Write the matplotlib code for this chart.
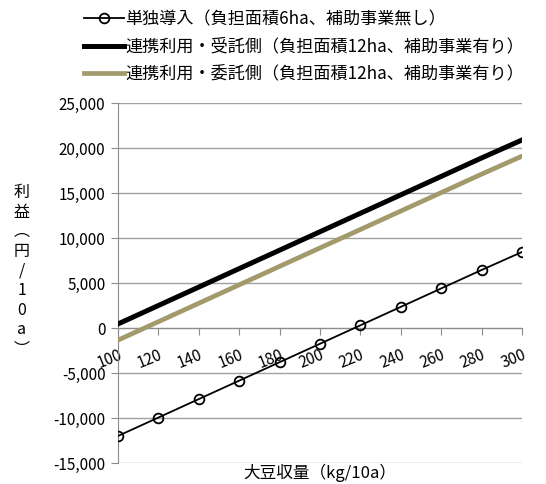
import numpy as np
import matplotlib

matplotlib.use("Agg")
import matplotlib.pyplot as plt

plt.rcParams["font.family"] = ["Noto Sans CJK JP", "DejaVu Sans"]
plt.rcParams["axes.unicode_minus"] = False

# 大豆収量 (kg/10a)
yields = [100, 120, 140, 160, 180, 200, 220, 240, 260, 280, 300]

# 利益 (円/10a)
single = [-12000, -9950, -7900, -5850, -3800, -1750, 300, 2350, 4400, 6450, 8450]
joint_recv = [450, 2500, 4550, 6600, 8650, 10700, 12750, 14800, 16850, 18900, 20900]
joint_cons = [-1350, 700, 2750, 4800, 6850, 8900, 10950, 13000, 15050, 17100, 19100]

labels = [
    "単独導入（負担面積6ha、補助事業無し）",
    "連携利用・受託側（負担面積12ha、補助事業有り）",
    "連携利用・委託側（負担面積12ha、補助事業有り）",
]

fig = plt.figure(figsize=(5.46, 4.84), dpi=100)
ax = fig.add_axes([0.216, 0.0434, 0.74, 0.7436])

l1, = ax.plot(yields, single, color="black", lw=1.3, marker="o", ms=7,
              mfc="none", mec="black", mew=1.3, zorder=4)
l2, = ax.plot(yields, joint_recv, color="black", lw=3.6, zorder=3)
l3, = ax.plot(yields, joint_cons, color="#A39A6C", lw=3.4, zorder=3)

ax.set_xlim(100, 300)
ax.set_ylim(-15000, 25000)
ax.set_yticks(np.arange(-15000, 25001, 5000))
ax.set_xticks(yields)
ax.yaxis.set_major_formatter(matplotlib.ticker.StrMethodFormatter("{x:,.0f}"))
ax.grid(axis="y", color="#a0a0a0", lw=1.0)
ax.set_axisbelow(True)

for s in ["top", "right"]:
    ax.spines[s].set_visible(False)
ax.spines["bottom"].set_position(("data", 0))
ax.spines["bottom"].set_color("#8c8c8c")
ax.spines["left"].set_color("#8c8c8c")
ax.tick_params(axis="y", length=5, color="#8c8c8c", labelsize=11, pad=4)
ax.tick_params(axis="x", length=5, color="#8c8c8c", labelsize=11, pad=8)
for t in ax.get_xticklabels():
    t.set_rotation(22)
    t.set_ha("right")
    t.set_va("top")
    t.set_rotation_mode("anchor")

fig.text(0.04, 0.44, "利\n益\n︵\n円\n/\n1\n0\na\n︶", ha="center", va="center",
         fontsize=11.5, linespacing=1.2)
fig.text(0.585, 0.004, "大豆収量（kg/10a）", ha="center", va="bottom", fontsize=12)

fig.legend([l1, l2, l3], labels, loc="upper left", bbox_to_anchor=(0.142, 0.993),
           frameon=False, fontsize=12.3, handlelength=2.3, handletextpad=0.1,
           labelspacing=0.55, borderaxespad=0)

fig.savefig("out.png", dpi=100)
